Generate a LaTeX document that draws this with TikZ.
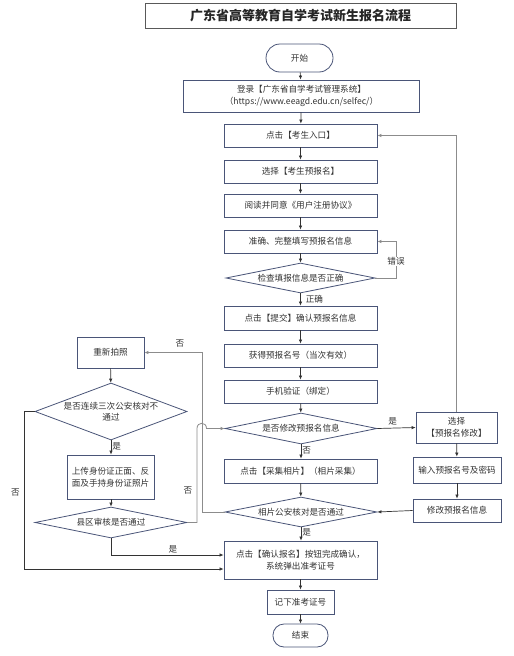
\documentclass[tikz,border=0pt]{standalone}
\usepackage{fontspec}
\setmainfont{Noto Sans CJK SC}
\usetikzlibrary{shapes.geometric,arrows.meta}
\definecolor{bord}{HTML}{4A5578}
\definecolor{ln}{HTML}{333333}
\definecolor{gl}{HTML}{8C8C8C}
\definecolor{tx}{HTML}{333333}
\begin{document}
\begin{tikzpicture}[x=1pt,y=-1pt,
  box/.style={draw=bord, line width=0.8pt, rectangle, inner sep=1pt, align=center, font=\fontsize{8.6}{11.5}\selectfont, text=tx},
  dia/.style={draw=bord, line width=0.8pt, diamond, inner sep=0pt},
  dtext/.style={font=\fontsize{8.6}{11.5}\selectfont, text=tx, align=center, inner sep=0pt},
  term/.style={box, rounded corners=11pt},
  arr/.style={-{Latex[length=4pt,width=3.5pt]}, line width=0.7pt, draw=ln},
  garr/.style={-{Latex[length=4pt,width=3.5pt]}, line width=0.8pt, draw=gl},
  lab/.style={font=\fontsize{8.6}{11}\selectfont, text=tx, inner sep=1pt}
]
\useasboundingbox (0,0) rectangle (514,656);
\fill[white] (0,0) rectangle (514,656);
% title
\node[draw=black!65, line width=0.9pt, minimum width=311pt, minimum height=25pt, font=\fontsize{13}{14}\selectfont\bfseries, text=black!85] (title) at (300.5,15.5) {广东省高等教育自学考试新生报名流程};
% main column
\node[term, minimum width=67pt, minimum height=28pt, rounded corners=14pt] (start) at (299.5,58) {开始};
\node[box, minimum width=236pt, minimum height=32pt] (login) at (301.5,96) {登录【广东省自学考试管理系统】\\（https://www.eeagd.edu.cn/selfec/）};
\node[box, minimum width=153pt, minimum height=23pt] (b1) at (300.5,135.5) {点击【考生入口】};
\node[box, minimum width=153pt, minimum height=23pt] (b2) at (300.5,171.5) {选择【考生预报名】};
\node[box, minimum width=153pt, minimum height=23pt] (b3) at (300.5,205.5) {阅读并同意《用户注册协议》};
\node[box, minimum width=153pt, minimum height=23pt] (b4) at (300.5,241.5) {准确、完整填写预报名信息};
\node[dia, minimum width=149pt, minimum height=30pt, label={[dtext]center:检查填报信息是否正确}] (d1) at (300.5,278) {};
\node[box, minimum width=153pt, minimum height=24pt] (b5) at (300.5,318) {点击【提交】确认预报名信息};
\node[box, minimum width=153pt, minimum height=23pt] (b6) at (300.5,355.5) {获得预报名号（当次有效）};
\node[box, minimum width=153pt, minimum height=23pt] (b7) at (300.5,391.5) {手机验证（绑定）};
\node[dia, minimum width=152pt, minimum height=31pt, label={[dtext]center:是否修改预报名信息}] (d2) at (301,428.5) {};
\node[box, minimum width=153pt, minimum height=24pt] (b8) at (300.5,471) {点击【采集相片】（相片采集）};
\node[dia, minimum width=152pt, minimum height=30pt, label={[dtext]center:相片公安核对是否通过}] (d3) at (301,512) {};
\node[box, minimum width=153pt, minimum height=38pt] (b9) at (300.5,560) {点击【确认报名】按钮完成确认，\\系统弹出准考证号};
\node[box, minimum width=67pt, minimum height=24pt] (b10) at (300.5,602) {记下准考证号};
\node[term, minimum width=55pt, minimum height=23pt] (end) at (300.5,635.5) {结束};
% right column
\node[box, minimum width=81pt, minimum height=31pt] (r1) at (456.5,427.5) {选择\\【预报名修改】};
\node[box, minimum width=88pt, minimum height=26pt] (r2) at (457,470) {输入预报名号及密码};
\node[box, minimum width=88pt, minimum height=23pt] (r3) at (457,510.5) {修改预报名信息};
% left column
\node[box, minimum width=67pt, minimum height=31pt] (l1) at (110.5,352.5) {重新拍照};
\node[dia, minimum width=152pt, minimum height=57pt, label={[dtext]center:是否连续三次公安核对不\\通过}] (ld1) at (111,411.5) {};
\node[box, minimum width=87pt, minimum height=44pt] (l2) at (110.5,477) {上传身份证正面、反\\面及手持身份证照片};
\node[dia, minimum width=152pt, minimum height=31pt, label={[dtext]center:县区审核是否通过}] (ld2) at (111,522.5) {};
% main arrows
\draw[arr] (start) -- (login);
\draw[arr] (login) -- (b1);
\draw[arr] (b1) -- (b2);
\draw[arr] (b2) -- (b3);
\draw[arr] (b3) -- (b4);
\draw[arr] (b4) -- (d1);
\draw[arr] (d1) -- node[lab, right, pos=0.45, xshift=4pt] {正确} (b5);
\draw[arr] (b5) -- (b6);
\draw[arr] (b6) -- (b7);
\draw[arr] (b7) -- (d2);
\draw[arr] (d2.south) -- node[lab, right, pos=0.4] {否} (b8.north -| d2.south);
\draw[arr] (b8) -- (d3);
\draw[arr] (d3.south) -- node[lab, right, pos=0.35] {是} (b9.north -| d3.south);
\draw[arr] (b9) -- (b10);
\draw[arr] (b10) -- (end);
% error loop
\draw[garr] (d1.east) -- (396,278) -- (396,241.5) -- (b4.east);
\node[lab, fill=white] (err) at (396,261.5) {错误};
% right side
\draw[arr] (d2.east) -- node[lab, above, pos=0.4, yshift=2pt] {是} (r1.west);
\draw[garr] (r1.north) -- (456.5,135.5) -- (b1.east);
\draw[arr] (r1) -- (r2);
\draw[arr] (r2) -- (r3);
\draw[arr] (r3.west) -- (d3.east);
% left side
\draw[garr] (d3.west) -- (202,512) -- (202,352.5) -- (l1.east);
\node[lab] (no1) at (180,343.5) {否};
\draw[arr] (l1) -- (ld1);
\draw[arr] (ld1.south) -- node[lab, right, pos=0.45] {是} (l2.north -| ld1.south);
\draw[arr] (l2.south -| ld2.north) -- (ld2.north);
\draw[garr] (ld2.east) -- (197,522.5) -- (197,428.5) .. controls (197,421.5) and (206.5,421.5) .. (206.5,428.5) -- (d2.west);
\node[lab] (no2) at (188,490) {否};
\draw[arr] (ld2.south) -- (111,555) -- node[lab, above, pos=0.55] {是} (b9.west |- 0,555);
\draw[arr] (ld1.west) -- (24,411.5) -- (24,569) -- (b9.west |- 0,569);
\node[lab] (no3) at (15.5,492) {否};
\end{tikzpicture}
\end{document}
